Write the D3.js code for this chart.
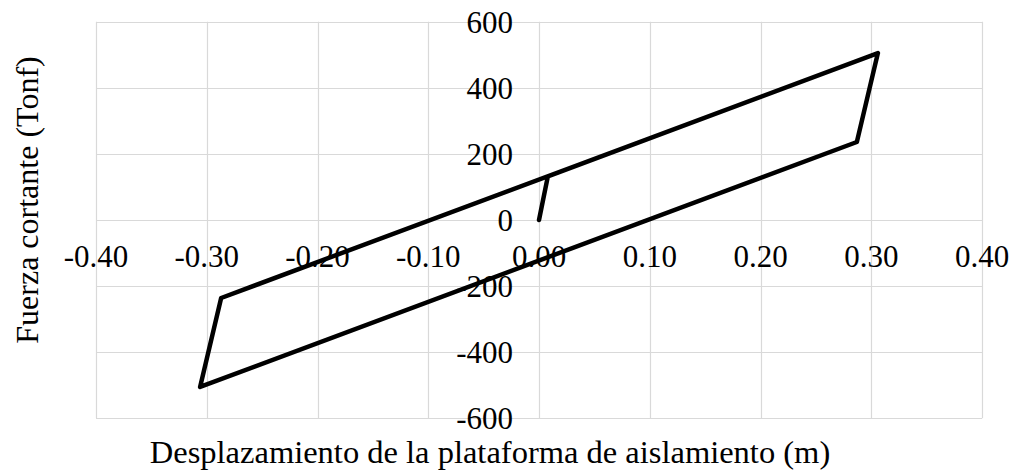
<!DOCTYPE html>
<html>
<head>
<meta charset="utf-8">
<script src="https://cdn.jsdelivr.net/npm/d3@7"></script>
<style>
  html, body { margin: 0; padding: 0; background: #ffffff; }
  svg { display: block; }
  text { font-family: "Liberation Serif", "Times New Roman", serif; fill: #000; }
</style>
</head>
<body>
<svg id="chart" width="1015" height="471"></svg>
<script>
// Hysteresis loop: displacement (m) vs. shear force (Tonf)
const displacement = [0.000, 0.008, 0.306, 0.287, -0.306, -0.287, 0.306];
const shearForce   = [0,     132,   505,   236,   -505,   -236,   505];

const xTicks = [-0.4, -0.3, -0.2, -0.1, 0, 0.1, 0.2, 0.3, 0.4];
const yTicks = [-600, -400, -200, 0, 200, 400, 600];

const xTitle = "Desplazamiento de la plataforma de aislamiento (m)";
const yTitle = "Fuerza cortante (Tonf)";

const svg = d3.select("#chart");
const plot = { left: 96, right: 982, top: 21.7, bottom: 418.3 };
const fontSize = 31;

const x = d3.scaleLinear().domain([-0.4, 0.4]).range([plot.left, plot.right]);
const y = d3.scaleLinear().domain([-600, 600]).range([plot.bottom, plot.top]);

// plain hyphen for negatives
const fmtX = d => d3.format(".2f")(d).replace("\u2212", "-");

const grid = svg.append("g").attr("class", "grid");

// vertical gridlines
grid.selectAll("line.v").data(xTicks).enter().append("line")
  .attr("class", "v")
  .attr("x1", d => Math.round(x(d)) + 0.5).attr("x2", d => Math.round(x(d)) + 0.5)
  .attr("y1", y(600)).attr("y2", y(-600))
  .attr("stroke", "#d9d9d9").attr("stroke-width", 1.2);

// horizontal gridlines
grid.selectAll("line.h").data(yTicks).enter().append("line")
  .attr("class", "h")
  .attr("y1", d => Math.round(y(d)) + 0.5).attr("y2", d => Math.round(y(d)) + 0.5)
  .attr("x1", x(-0.4)).attr("x2", x(0.4))
  .attr("stroke", "#d9d9d9").attr("stroke-width", 1.2);

// x tick labels, below the zero line
svg.append("g").selectAll("text").data(xTicks).enter().append("text")
  .attr("x", d => x(d))
  .attr("y", y(0) + 47)
  .attr("text-anchor", "middle")
  .attr("font-size", fontSize)
  .text(fmtX);

// y tick labels, left of the zero line
svg.append("g").selectAll("text").data(yTicks).enter().append("text")
  .attr("x", x(0) - 26)
  .attr("y", d => y(d) + 11)
  .attr("text-anchor", "end")
  .attr("font-size", fontSize)
  .text(d => String(d));

// loop path
const line = d3.line()
  .x((d, i) => x(displacement[i]))
  .y((d, i) => y(shearForce[i]));

svg.append("path")
  .datum(displacement)
  .attr("d", line)
  .attr("fill", "none")
  .attr("stroke", "#000")
  .attr("stroke-width", 4.5)
  .attr("stroke-linejoin", "round")
  .attr("stroke-linecap", "round");

// axis titles
svg.append("text")
  .attr("x", 490)
  .attr("y", 463)
  .attr("text-anchor", "middle")
  .attr("font-size", 32.5)
  .text(xTitle);

svg.append("text")
  .attr("transform", "translate(38,200) rotate(-90)")
  .attr("text-anchor", "middle")
  .attr("font-size", 32)
  .text(yTitle);
</script>
</body>
</html>
